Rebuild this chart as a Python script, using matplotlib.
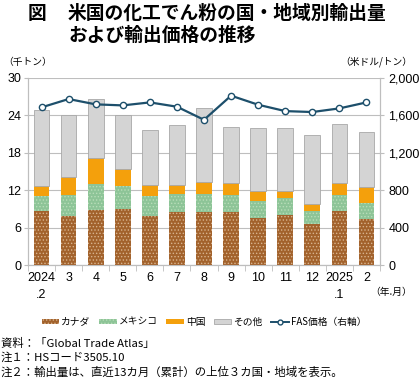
import numpy as np
import matplotlib
matplotlib.use("Agg")
from matplotlib import pyplot as plt
from matplotlib.patches import Patch
from matplotlib.lines import Line2D

plt.rcParams['font.family'] = ['Noto Sans CJK JP', 'DejaVu Sans']
plt.rcParams['hatch.linewidth'] = 0.6

months = ["2024\n.2", "3", "4", "5", "6", "7", "8", "9", "10", "11", "12", "2025\n.1", "2"]
canada = [8.6, 7.9, 8.8, 9.0, 7.9, 8.5, 8.5, 8.5, 7.5, 8.0, 6.6, 8.6, 7.4]
mexico = [2.5, 3.3, 4.2, 3.7, 3.2, 2.9, 2.9, 2.8, 2.8, 2.7, 2.0, 2.7, 2.6]
china = [1.6, 2.9, 4.1, 2.7, 1.7, 1.5, 1.9, 1.8, 1.6, 1.2, 1.2, 1.9, 2.5]
others = [12.2, 10.0, 9.6, 8.7, 8.9, 9.5, 11.9, 9.1, 10.1, 10.0, 11.0, 9.5, 8.9]
fas_price = [1686, 1775, 1718, 1707, 1739, 1693, 1553, 1811, 1714, 1646, 1636, 1675, 1739]

c_canada = '#A2622C'
c_mexico = '#8DC497'
c_china = '#F4A00C'
c_others = '#D4D4D4'
c_line = '#1D4F6B'
c_grid = '#BEBEBE'

fig = plt.figure(figsize=(4.2, 3.81), dpi=100)
ax = fig.add_axes([28/420, 1 - 265/381, 352/420, 187/381])
ax2 = ax.twinx()

x = np.arange(len(months))
w = 0.58
b1 = np.array(canada)
b2 = b1 + np.array(mexico)
b3 = b2 + np.array(china)

ax.bar(x, canada, w, color=c_canada, edgecolor='#D8B48E', hatch='.....', linewidth=0, zorder=3)
ax.bar(x, mexico, w, bottom=b1, color=c_mexico, edgecolor='#B9DDB9', hatch='.....', linewidth=0, zorder=3)
ax.bar(x, china, w, bottom=b2, color=c_china, linewidth=0, zorder=3)
ax.bar(x, others, w, bottom=b3, color=c_others, edgecolor='#A8A8A8', linewidth=0.6, zorder=3)

ax2.plot(x, fas_price, color=c_line, lw=1.6, marker='o', ms=4.5,
         mfc='white', mec=c_line, mew=1.0, zorder=5)

ax.set_xlim(-0.5, len(months) - 0.5)
ax.set_ylim(0, 30)
ax.set_yticks([0, 6, 12, 18, 24, 30])
ax2.set_ylim(0, 2000)
ax2.set_yticks([0, 400, 800, 1200, 1600, 2000])
ax2.set_yticklabels(['0', '400', '800', '1,200', '1,600', '2,000'])

ax.set_xticks(x)
ax.set_xticklabels(months, family=['Liberation Sans', 'DejaVu Sans'], fontsize=9, linespacing=1.6)
ax.set_xticks(np.arange(len(months) + 1) - 0.5, minor=True)
ax.tick_params(axis='x', which='major', length=0, pad=5)
ax.tick_params(axis='x', which='minor', length=4, color=c_grid, direction='out')
ax.tick_params(axis='y', length=3, color=c_grid, pad=2, labelsize=9)
ax2.tick_params(axis='y', length=3, color=c_grid, pad=3, labelsize=9)
for lab in ax.get_yticklabels() + ax2.get_yticklabels():
    lab.set_family(['Liberation Sans', 'DejaVu Sans'])

ax.yaxis.grid(True, color=c_grid, lw=0.8, zorder=0)
ax.set_axisbelow(True)
for a in (ax, ax2):
    a.spines['top'].set_visible(False)
    for s in ('left', 'right', 'bottom'):
        a.spines[s].set_color(c_grid)
        a.spines[s].set_linewidth(0.8)
ax2.set_zorder(ax.get_zorder() + 1)
ax2.patch.set_visible(False)

# titles and axis units
fig.text(28/420, 1 - 4/381, "図", fontsize=13.5, fontweight='bold', va='top')
fig.text(68/420, 1 - 4/381, "米国の化工でん粉の国・地域別輸出量\nおよび輸出価格の推移",
         fontsize=13.5, fontweight='bold', va='top', linespacing=1.2)
fig.text(3/420, 1 - 62/381, "（千トン）", fontsize=7, va='center')
fig.text(412/420, 1 - 62/381, "（米ドル/トン）", fontsize=7, va='center', ha='right')
fig.text(412/420, 1 - 292/381, "（年.月）", fontsize=7, va='center', ha='right')

handles = [
    Patch(facecolor=c_canada, edgecolor='#D8B48E', hatch='.....', linewidth=0),
    Patch(facecolor=c_mexico, edgecolor='#B9DDB9', hatch='.....', linewidth=0),
    Patch(facecolor=c_china, linewidth=0),
    Patch(facecolor=c_others, edgecolor='#A8A8A8', linewidth=0.6),
    Line2D([0], [0], color=c_line, lw=1.4, marker='o', ms=3.5, mfc='white', mec=c_line),
]
labels = ["カナダ", "メキシコ", "中国", "その他", "FAS価格（右軸）"]
fig.legend(handles, labels, loc='center', bbox_to_anchor=(204/420, 1 - 322/381), ncol=5,
           frameon=False, fontsize=7, handlelength=1.8, handleheight=0.45,
           handletextpad=0.2, columnspacing=0.9)

notes = ["資料：「Global Trade Atlas」",
         "注１：HSコード3505.10",
         "注２：輸出量は、直近13カ月（累計）の上位３カ国・地域を表示。"]
for i, t in enumerate(notes):
    fig.text(1/420, 1 - (343 + 14.5 * i)/381, t, fontsize=8.2, va='center')

fig.savefig("out.png", dpi=100)
